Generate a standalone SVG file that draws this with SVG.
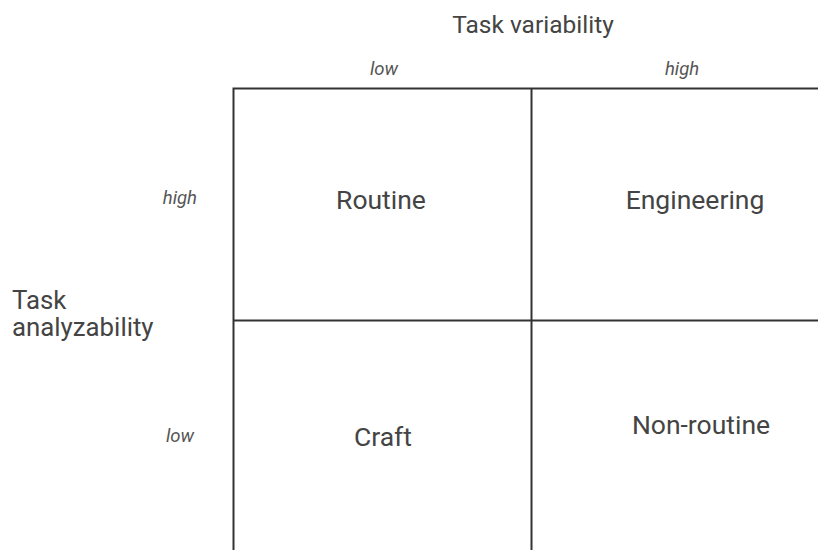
<svg xmlns="http://www.w3.org/2000/svg" width="818" height="550" viewBox="0 0 818 550">
<style>
text{font-family:Roboto,"Liberation Sans",sans-serif;fill:#444}
.t{font-size:24.5px}
.l{font-size:25.8px}
.s{font-size:18.5px;font-style:italic;fill:#555}
.c{font-size:26.5px}
.g{stroke:#333;stroke-width:2;fill:none}
</style>
<rect width="818" height="550" fill="#fff"/>
<g id="axes">
<text class="t" x="533" y="33" text-anchor="middle">Task variability</text>
<text class="s" x="384" y="75" text-anchor="middle">low</text>
<text class="s" x="682" y="75" text-anchor="middle">high</text>
<text class="s" x="197" y="204" text-anchor="end">high</text>
<text class="s" x="194" y="442" text-anchor="end">low</text>
<text class="l" x="12" y="309">Task</text>
<text class="l" x="12" y="336">analyzability</text>
</g>
<g id="grid">
<path class="g" d="M233.5,550V88.5H818M531.5,88.5V550M233.5,320.5H818"/>
</g>
<g id="routine"><text class="c" x="381" y="209" text-anchor="middle">Routine</text></g>
<g id="engineering"><text class="c" x="695" y="209" text-anchor="middle">Engineering</text></g>
<g id="craft"><text class="c" x="383" y="446" text-anchor="middle">Craft</text></g>
<g id="nonroutine"><text class="c" x="701" y="434" text-anchor="middle">Non-routine</text></g>
</svg>
